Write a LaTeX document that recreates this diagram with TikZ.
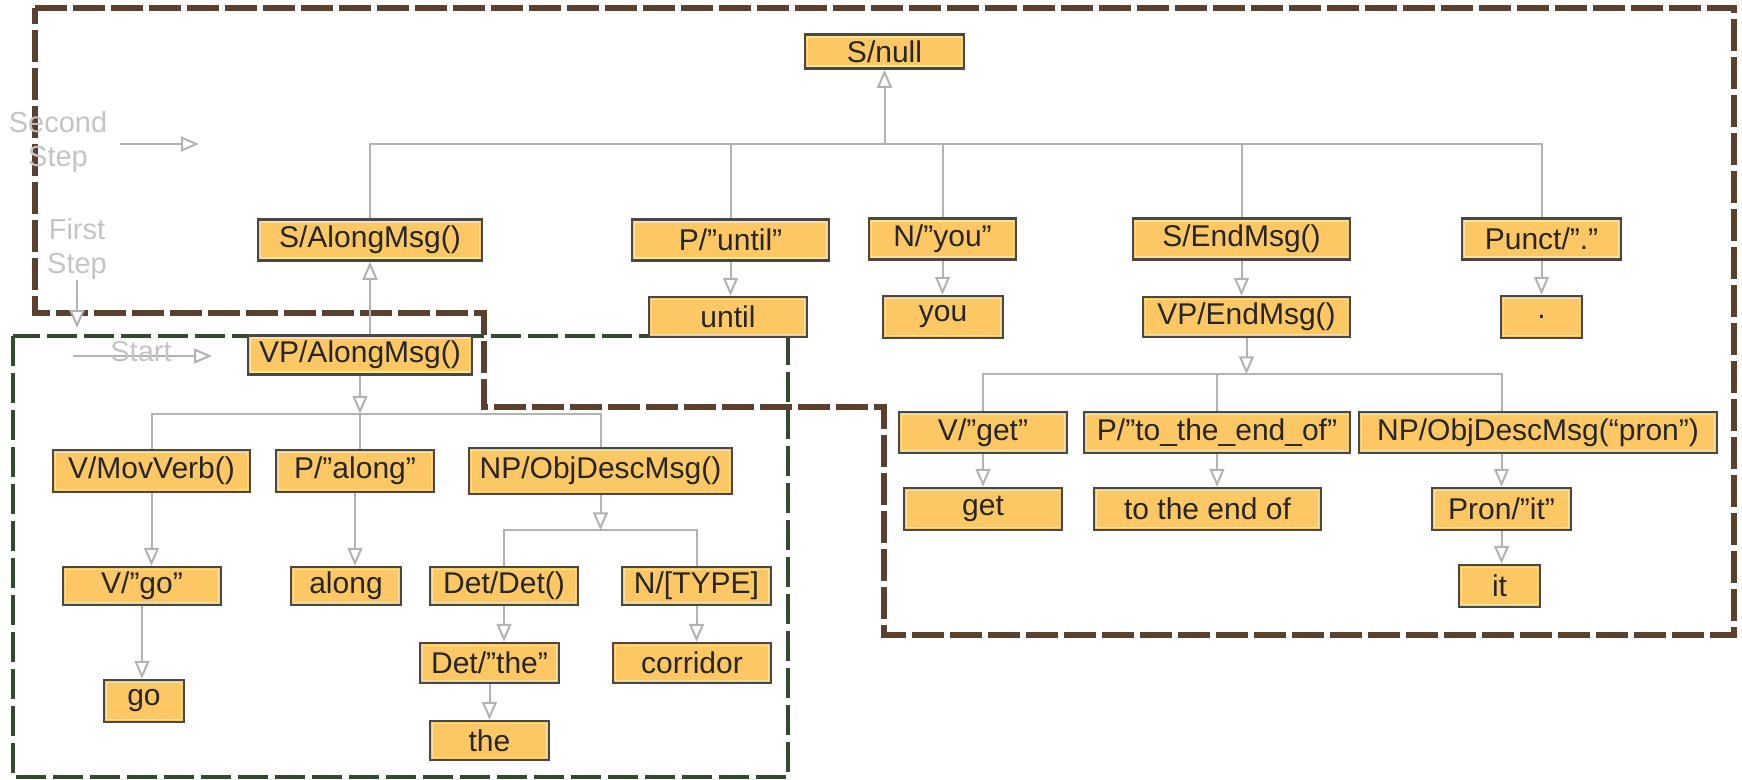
\documentclass[tikz,border=0pt]{standalone}
\usepackage{fontspec}
\setmainfont{Liberation Sans}
\usepackage{xcolor}
\usetikzlibrary{arrows.meta}

\definecolor{boxfill}{RGB}{253,200,100}
\definecolor{boxline}{RGB}{72,72,72}
\definecolor{boxhi}{RGB}{255,226,160}
\definecolor{linkgray}{RGB}{178,178,178}
\definecolor{lblgray}{RGB}{196,196,196}
\definecolor{stepbrown}{RGB}{92,64,46}
\definecolor{stepgreen}{RGB}{48,76,44}

\tikzset{
  box/.style={draw=boxline, fill=boxfill, line width=2.5pt, inner sep=0pt,
    minimum height=41pt, text=black!85, font=\fontsize{30}{35}\selectfont,
    path picture={\draw[boxhi, line width=1.5pt]
      ([shift={(2.3pt,-2.3pt)}]path picture bounding box.north west) rectangle
      ([shift={(-2.3pt,2.3pt)}]path picture bounding box.south east);}},
  conn/.style={draw=linkgray, line width=2pt},
  arr/.style={-{Triangle[length=18pt,width=15pt,fill=white]}},
  rarr/.style={{Triangle[length=18pt,width=15pt,fill=white]}-},
  lbl/.style={text=lblgray, font=\fontsize{29}{34}\selectfont, inner sep=0pt, align=center}
}

\begin{document}
\begin{tikzpicture}[x=1pt,y=-1pt]
\useasboundingbox (0,0) rectangle (1742,779);

% step frames
\draw[stepgreen, line width=4.5pt, dash pattern=on 30pt off 7pt] (13,336) rectangle (788,777);
\draw[stepbrown, line width=6pt, dash pattern=on 32pt off 6pt]
  (35,8) -- (1734,8) -- (1734,635) -- (884,635) -- (884,407)
  -- (484,407) -- (484,313) -- (35,313) -- cycle;

% step labels
\coordinate (secondBeg) at (120,144);
\coordinate (secondEnd) at (199,144);
\coordinate (firstEnd) at (77,328);
\coordinate (startBeg) at (73,356);
\coordinate (startEnd) at (212,356);
\draw[conn,arr] (secondBeg) -- (secondEnd);
\draw[conn,arr] (startBeg) -- (startEnd);
\node[lbl] (secondLbl) at (58,142) {Second\\Step};
\node[lbl] (firstLbl) at (77,249) {First\\Step};
\node[lbl] (startLbl) at (141,352) {Start};
\draw[conn,arr] (firstLbl.south) -- (firstLbl.south |- firstEnd);

% second step
\node[box, minimum width=159pt, minimum height=34pt] (snull) at (884.5,51.5) {S/null};
\node[box, minimum width=224pt] (sAlong) at (370,240) {S/AlongMsg()};
\node[box, minimum width=197pt] (pUntil) at (730.5,240) {P/”until”};
\node[box, minimum width=147pt] (nYou) at (942.5,239) {N/”you”};
\node[box, minimum width=217pt] (sEnd) at (1241.5,239) {S/EndMsg()};
\node[box, minimum width=159pt] (punct) at (1541.5,239) {Punct/”.”};
\node[box, minimum width=158pt, minimum height=40pt] (until) at (728,317) {until};
\node[box, minimum width=120pt, minimum height=42pt] (you) at (943,317) {you};
\node[box, minimum width=207pt, minimum height=40pt] (vpEnd) at (1246.5,317) {VP/EndMsg()};
\node[box, minimum width=81pt, minimum height=42pt] (dot) at (1541.5,317) {.};

\node[box, minimum width=168pt] (vGet) at (983,432.5) {V/”get”};
\node[box, minimum width=266pt] (pToEnd) at (1217,432.5) {P/”to\_the\_end\_of”};
\node[box, minimum width=358pt] (npPron) at (1538,432.5) {NP/ObjDescMsg(“pron”)};
\node[box, minimum width=158pt, minimum height=42pt] (get) at (983,509) {get};
\node[box, minimum width=227pt, minimum height=42pt] (toEnd) at (1207.5,509) {to the end of};
\node[box, minimum width=139pt, minimum height=42pt] (pronIt) at (1501.5,509) {Pron/”it”};
\node[box, minimum width=81pt, minimum height=42pt] (it) at (1499.5,586) {it};

% first step
\node[box, minimum width=224pt, minimum height=39pt] (vpAlong) at (360,355) {VP/AlongMsg()};
\node[box, minimum width=197pt, minimum height=42pt] (vMov) at (151.5,471) {V/MovVerb()};
\node[box, minimum width=158pt, minimum height=42pt] (pAlong) at (355,471) {P/”along”};
\node[box, minimum width=263pt, minimum height=46pt] (npObj) at (600.5,471) {NP/ObjDescMsg()};
\node[box, minimum width=158pt, minimum height=38pt] (vGo) at (142,586) {V/”go”};
\node[box, minimum width=110pt, minimum height=38pt] (along) at (346,586) {along};
\node[box, minimum width=148pt, minimum height=38pt] (detDet) at (504,586) {Det/Det()};
\node[box, minimum width=149pt, minimum height=38pt] (nType) at (696.5,586) {N/[TYPE]};
\node[box, minimum width=139pt, minimum height=40pt] (detThe) at (489.5,663) {Det/”the”};
\node[box, minimum width=158pt, minimum height=40pt] (corridor) at (692,663) {corridor};
\node[box, minimum width=80pt, minimum height=42pt] (go) at (144,701) {go};
\node[box, minimum width=119pt, minimum height=39pt] (the) at (489.5,740.5) {the};

% links, second step
\coordinate (busTop) at (884.5,144);
\draw[conn,rarr] (snull.south) -- (busTop);
\draw[conn] (sAlong.north) |- (busTop) -| (punct.north);
\draw[conn] (busTop) -| (pUntil.north);
\draw[conn] (busTop) -| (nYou.north);
\draw[conn] (busTop) -| (sEnd.north);
\draw[conn,arr] (pUntil.south) -- (pUntil.south |- until.north);
\draw[conn,arr] (nYou.south) -- (nYou.south |- you.north);
\draw[conn,arr] (sEnd.south) -- (sEnd.south |- vpEnd.north);
\draw[conn,arr] (punct.south) -- (punct.south |- dot.north);

\path (vpEnd.south) ++(0,36) coordinate (busC);
\draw[conn,arr] (vpEnd.south) -- (busC);
\draw[conn] (vGet.north) |- (busC) -| (npPron.north -| pronIt.north);
\draw[conn] (busC) -| (pToEnd.north);
\draw[conn,arr] (vGet.south) -- (vGet.south |- get.north);
\draw[conn,arr] (pToEnd.south) -- (pToEnd.south |- toEnd.north);
\draw[conn,arr] (pronIt.north |- npPron.south) -- (pronIt.north);
\draw[conn,arr] (pronIt.south) -- (pronIt.south |- it.north);

% links, first step
\draw[conn,rarr] (sAlong.south) -- (sAlong.south |- vpAlong.north);
\path (vpAlong.south) ++(0,38) coordinate (busA);
\draw[conn,arr] (vpAlong.south) -- (busA);
\draw[conn] (vMov.north) |- (busA) -| (npObj.north);
\draw[conn] (busA) -- (busA |- pAlong.north);
\draw[conn,arr] (vMov.south) -- (vMov.south |- vGo.north);
\draw[conn,arr] (vGo.south) -- (vGo.south |- go.north);
\draw[conn,arr] (pAlong.south) -- (pAlong.south |- along.north);

\path (npObj.south) ++(0,35) coordinate (busB);
\draw[conn,arr] (npObj.south) -- (busB);
\draw[conn] (detDet.north) |- (busB) -| (nType.north);
\draw[conn,arr] (detDet.south) -- (detDet.south |- detThe.north);
\draw[conn,arr] (detThe.south) -- (detThe.south |- the.north);
\draw[conn,arr] (nType.south) -- (nType.south |- corridor.north);
\end{tikzpicture}
\end{document}
